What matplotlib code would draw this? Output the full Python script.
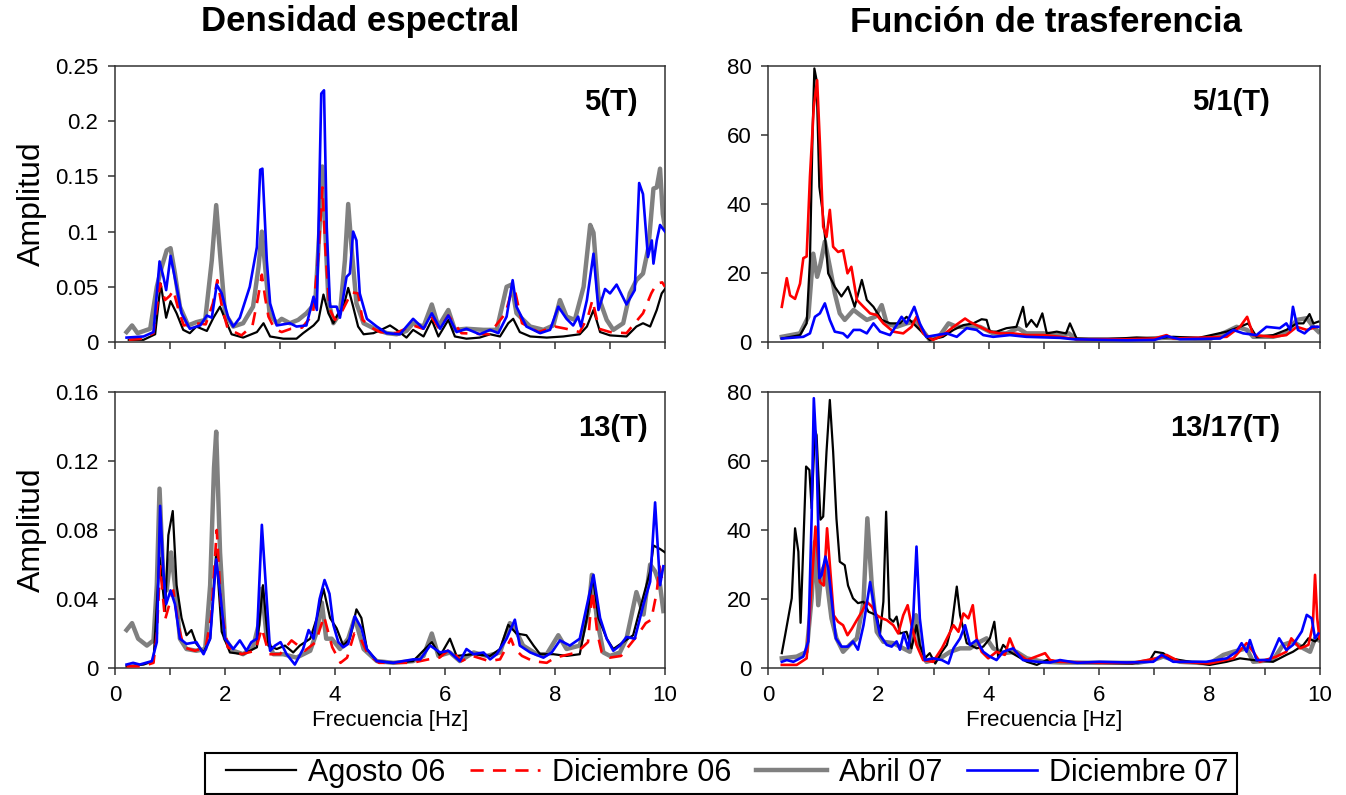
import matplotlib
matplotlib.use("Agg")
import matplotlib.pyplot as plt
from matplotlib.patches import Rectangle

plt.rcParams['font.family'] = ['Liberation Sans', 'DejaVu Sans']

# ---------------------------------------------------------------------------
# Data  (frequency [Hz], amplitude)
# ---------------------------------------------------------------------------
series_names = ["Agosto 06", "Diciembre 06", "Abril 07", "Diciembre 07"]

# --- Densidad espectral 5(T) ---
dens5_ago06 = [(0.25, 0.002), (0.52, 0.002), (0.73, 0.007), (0.83, 0.053), (0.93, 0.022), (1.01, 0.037),
               (1.12, 0.026), (1.24, 0.011), (1.36, 0.008), (1.48, 0.014), (1.67, 0.010), (1.79, 0.022),
               (1.91, 0.032), (2.0, 0.021), (2.12, 0.007), (2.33, 0.004), (2.58, 0.009), (2.70, 0.017),
               (2.82, 0.005), (3.06, 0.003), (3.30, 0.003), (3.42, 0.008), (3.61, 0.015), (3.70, 0.020),
               (3.79, 0.043), (3.88, 0.026), (3.97, 0.017), (4.06, 0.026), (4.15, 0.031), (4.24, 0.049),
               (4.33, 0.032), (4.42, 0.014), (4.52, 0.007), (4.70, 0.008), (4.88, 0.012), (5.0, 0.015),
               (5.12, 0.011), (5.30, 0.004), (5.42, 0.011), (5.61, 0.005), (5.76, 0.020), (5.88, 0.005),
               (6.06, 0.020), (6.18, 0.005), (6.39, 0.003), (6.63, 0.004), (6.82, 0.007), (7.0, 0.005),
               (7.15, 0.017), (7.24, 0.021), (7.36, 0.009), (7.55, 0.005), (7.85, 0.004), (8.15, 0.005),
               (8.45, 0.007), (8.58, 0.014), (8.70, 0.029), (8.82, 0.009), (9.0, 0.006), (9.30, 0.005),
               (9.48, 0.014), (9.60, 0.017), (9.73, 0.014), (9.85, 0.029), (9.94, 0.044), (10.0, 0.048)]
dens5_dic06 = [(0.25, 0.002), (0.5, 0.003), (0.7, 0.008), (0.82, 0.053), (0.91, 0.038), (1.0, 0.042),
               (1.06, 0.047), (1.15, 0.030), (1.25, 0.015), (1.45, 0.017), (1.65, 0.016), (1.78, 0.035),
               (1.86, 0.056), (1.95, 0.030), (2.05, 0.012), (2.3, 0.006), (2.5, 0.015), (2.6, 0.040),
               (2.67, 0.061), (2.73, 0.040), (2.79, 0.023), (2.9, 0.012), (3.03, 0.009), (3.2, 0.012),
               (3.4, 0.013), (3.6, 0.025), (3.7, 0.080), (3.77, 0.140), (3.83, 0.080), (3.9, 0.030),
               (4.0, 0.020), (4.1, 0.025), (4.2, 0.035), (4.3, 0.045), (4.42, 0.044), (4.5, 0.020),
               (4.7, 0.012), (4.82, 0.009), (5.1, 0.008), (5.42, 0.015), (5.6, 0.012), (5.76, 0.022),
               (5.9, 0.012), (6.06, 0.024), (6.3, 0.008), (6.8, 0.007), (7.1, 0.026), (7.2, 0.044),
               (7.27, 0.047), (7.4, 0.017), (7.7, 0.009), (8.0, 0.014), (8.2, 0.012), (8.45, 0.009),
               (8.6, 0.023), (8.68, 0.038), (8.8, 0.012), (9.0, 0.009), (9.3, 0.008), (9.45, 0.017),
               (9.6, 0.026), (9.75, 0.044), (9.85, 0.053), (9.95, 0.054), (10.0, 0.050)]
dens5_abr07 = [(0.21, 0.009), (0.31, 0.015), (0.41, 0.008), (0.64, 0.012), (0.76, 0.050), (0.85, 0.068),
               (0.94, 0.083), (1.01, 0.085), (1.09, 0.062), (1.18, 0.032), (1.33, 0.015), (1.48, 0.018),
               (1.64, 0.020), (1.76, 0.074), (1.84, 0.124), (1.91, 0.080), (2.0, 0.026), (2.15, 0.014),
               (2.33, 0.017), (2.51, 0.032), (2.61, 0.068), (2.67, 0.100), (2.73, 0.068), (2.81, 0.026),
               (2.94, 0.017), (3.03, 0.021), (3.18, 0.017), (3.33, 0.020), (3.48, 0.026), (3.64, 0.035),
               (3.72, 0.104), (3.77, 0.159), (3.82, 0.104), (3.88, 0.038), (3.97, 0.017), (4.09, 0.026),
               (4.18, 0.074), (4.24, 0.125), (4.30, 0.086), (4.39, 0.035), (4.52, 0.017), (4.76, 0.011),
               (4.95, 0.008), (5.12, 0.007), (5.30, 0.010), (5.42, 0.017), (5.61, 0.014), (5.76, 0.034),
               (5.88, 0.014), (6.06, 0.029), (6.18, 0.011), (6.39, 0.012), (6.70, 0.011), (6.94, 0.011),
               (7.12, 0.050), (7.21, 0.052), (7.30, 0.026), (7.55, 0.014), (7.79, 0.011), (7.97, 0.015),
               (8.09, 0.038), (8.21, 0.023), (8.36, 0.020), (8.52, 0.050), (8.64, 0.106), (8.70, 0.099),
               (8.79, 0.041), (8.94, 0.020), (9.06, 0.011), (9.24, 0.017), (9.36, 0.044), (9.48, 0.056),
               (9.60, 0.062), (9.70, 0.086), (9.79, 0.139), (9.85, 0.140), (9.91, 0.157), (9.96, 0.116),
               (10.0, 0.104)]
dens5_dic07 = [(0.21, 0.004), (0.52, 0.005), (0.70, 0.009), (0.81, 0.073), (0.88, 0.059), (0.93, 0.047),
               (1.01, 0.078), (1.12, 0.050), (1.21, 0.026), (1.36, 0.012), (1.55, 0.015), (1.67, 0.024),
               (1.76, 0.022), (1.85, 0.052), (1.94, 0.044), (2.06, 0.022), (2.15, 0.014), (2.27, 0.022),
               (2.45, 0.050), (2.58, 0.086), (2.64, 0.156), (2.68, 0.157), (2.76, 0.074), (2.82, 0.035),
               (2.94, 0.015), (3.18, 0.017), (3.30, 0.014), (3.48, 0.015), (3.61, 0.041), (3.67, 0.029),
               (3.75, 0.225), (3.80, 0.228), (3.85, 0.104), (3.91, 0.032), (4.03, 0.032), (4.09, 0.022),
               (4.21, 0.059), (4.27, 0.062), (4.33, 0.100), (4.39, 0.092), (4.45, 0.044), (4.58, 0.021),
               (4.76, 0.014), (4.94, 0.008), (5.18, 0.007), (5.42, 0.021), (5.61, 0.012), (5.76, 0.026),
               (5.91, 0.012), (6.06, 0.024), (6.21, 0.009), (6.39, 0.012), (6.63, 0.007), (6.82, 0.011),
               (6.97, 0.008), (7.12, 0.023), (7.23, 0.056), (7.30, 0.032), (7.48, 0.014), (7.73, 0.008),
               (7.91, 0.011), (8.06, 0.032), (8.21, 0.021), (8.33, 0.015), (8.42, 0.023), (8.47, 0.014),
               (8.58, 0.038), (8.70, 0.080), (8.79, 0.029), (8.91, 0.048), (9.00, 0.044), (9.12, 0.052),
               (9.30, 0.034), (9.45, 0.047), (9.53, 0.144), (9.60, 0.134), (9.69, 0.077), (9.76, 0.092),
               (9.79, 0.071), (9.85, 0.092), (9.91, 0.106), (10.0, 0.100)]

# --- Densidad espectral 13(T) ---
dens13_ago06 = [(0.21, 0.001), (0.52, 0.002), (0.70, 0.004), (0.81, 0.064), (0.91, 0.033), (0.97, 0.077),
                (1.05, 0.091), (1.12, 0.048), (1.21, 0.029), (1.30, 0.019), (1.39, 0.022), (1.48, 0.014),
                (1.61, 0.009), (1.73, 0.017), (1.84, 0.067), (1.94, 0.021), (2.09, 0.009), (2.33, 0.008),
                (2.58, 0.012), (2.69, 0.048), (2.79, 0.013), (2.94, 0.011), (3.09, 0.013), (3.24, 0.009),
                (3.36, 0.013), (3.55, 0.017), (3.67, 0.029), (3.79, 0.046), (3.91, 0.029), (4.03, 0.023),
                (4.15, 0.013), (4.27, 0.017), (4.39, 0.034), (4.48, 0.029), (4.58, 0.011), (4.76, 0.004),
                (5.06, 0.003), (5.42, 0.004), (5.76, 0.015), (5.91, 0.007), (6.09, 0.017), (6.21, 0.007),
                (6.52, 0.008), (6.82, 0.007), (7.0, 0.011), (7.15, 0.025), (7.30, 0.020), (7.48, 0.019),
                (7.61, 0.013), (7.73, 0.008), (7.97, 0.008), (8.21, 0.007), (8.45, 0.008), (8.58, 0.029),
                (8.69, 0.053), (8.79, 0.029), (8.94, 0.017), (9.06, 0.011), (9.24, 0.015), (9.42, 0.019),
                (9.61, 0.042), (9.73, 0.056), (9.79, 0.071), (9.91, 0.069), (10.0, 0.067)]
dens13_dic06 = [(0.21, 0.001), (0.5, 0.001), (0.7, 0.003), (0.76, 0.020), (0.82, 0.059), (0.91, 0.028),
                (1.06, 0.045), (1.15, 0.025), (1.25, 0.012), (1.45, 0.010), (1.65, 0.012), (1.75, 0.030),
                (1.85, 0.080), (1.93, 0.035), (2.05, 0.012), (2.3, 0.008), (2.55, 0.010), (2.67, 0.023),
                (2.8, 0.008), (3.0, 0.008), (3.21, 0.016), (3.45, 0.010), (3.65, 0.015), (3.8, 0.030),
                (3.95, 0.012), (4.1, 0.003), (4.22, 0.006), (4.35, 0.020), (4.45, 0.018), (4.6, 0.008),
                (4.8, 0.003), (5.4, 0.003), (5.7, 0.005), (5.9, 0.006), (6.09, 0.011), (6.3, 0.004),
                (6.5, 0.007), (6.8, 0.004), (7.0, 0.005), (7.2, 0.017), (7.27, 0.011), (7.4, 0.007),
                (7.6, 0.004), (7.85, 0.003), (8.0, 0.006), (8.4, 0.009), (8.6, 0.015), (8.68, 0.045),
                (8.77, 0.020), (8.85, 0.009), (9.0, 0.006), (9.2, 0.007), (9.4, 0.015), (9.5, 0.019),
                (9.65, 0.026), (9.75, 0.028), (9.85, 0.044), (9.9, 0.059), (9.97, 0.048)]
dens13_abr07 = [(0.21, 0.022), (0.31, 0.026), (0.42, 0.017), (0.58, 0.013), (0.70, 0.016), (0.76, 0.048),
                (0.81, 0.104), (0.88, 0.050), (0.94, 0.045), (1.02, 0.067), (1.09, 0.048), (1.18, 0.017),
                (1.30, 0.011), (1.48, 0.010), (1.64, 0.011), (1.73, 0.048), (1.80, 0.116), (1.84, 0.137),
                (1.91, 0.067), (2.0, 0.017), (2.15, 0.010), (2.33, 0.008), (2.51, 0.012), (2.61, 0.025),
                (2.67, 0.046), (2.76, 0.017), (2.88, 0.008), (3.06, 0.008), (3.30, 0.006), (3.55, 0.010),
                (3.67, 0.021), (3.76, 0.038), (3.84, 0.017), (3.94, 0.017), (4.09, 0.011), (4.24, 0.017),
                (4.36, 0.029), (4.52, 0.011), (4.76, 0.004), (5.06, 0.003), (5.42, 0.004), (5.61, 0.007),
                (5.76, 0.020), (5.88, 0.007), (6.09, 0.009), (6.27, 0.004), (6.52, 0.009), (6.76, 0.007),
                (7.0, 0.009), (7.18, 0.026), (7.27, 0.023), (7.42, 0.013), (7.67, 0.008), (7.85, 0.008),
                (8.06, 0.019), (8.21, 0.011), (8.45, 0.013), (8.61, 0.033), (8.67, 0.054), (8.76, 0.029),
                (8.88, 0.009), (9.0, 0.007), (9.18, 0.009), (9.30, 0.017), (9.48, 0.044), (9.61, 0.031),
                (9.73, 0.060), (9.82, 0.056), (9.91, 0.048), (9.97, 0.033)]
dens13_dic07 = [(0.21, 0.002), (0.33, 0.003), (0.45, 0.002), (0.67, 0.004), (0.76, 0.015), (0.82, 0.094),
                (0.88, 0.056), (0.93, 0.037), (1.01, 0.045), (1.09, 0.037), (1.18, 0.017), (1.30, 0.014),
                (1.48, 0.015), (1.61, 0.008), (1.73, 0.017), (1.84, 0.063), (1.91, 0.044), (2.0, 0.017),
                (2.15, 0.011), (2.27, 0.016), (2.39, 0.010), (2.48, 0.015), (2.58, 0.017), (2.67, 0.083),
                (2.76, 0.039), (2.82, 0.010), (2.91, 0.013), (3.01, 0.015), (3.12, 0.008), (3.27, 0.002),
                (3.42, 0.011), (3.52, 0.022), (3.61, 0.017), (3.72, 0.040), (3.81, 0.051), (3.90, 0.043),
                (3.97, 0.025), (4.06, 0.015), (4.15, 0.012), (4.24, 0.014), (4.36, 0.030), (4.48, 0.023),
                (4.58, 0.011), (4.76, 0.004), (5.06, 0.003), (5.42, 0.005), (5.55, 0.005), (5.73, 0.013),
                (5.91, 0.009), (6.06, 0.010), (6.27, 0.004), (6.39, 0.011), (6.52, 0.008), (6.70, 0.009),
                (6.82, 0.005), (6.94, 0.008), (7.12, 0.017), (7.27, 0.028), (7.36, 0.013), (7.55, 0.009),
                (7.79, 0.006), (7.94, 0.009), (8.09, 0.016), (8.27, 0.013), (8.45, 0.017), (8.70, 0.054),
                (8.82, 0.029), (8.94, 0.017), (9.06, 0.010), (9.18, 0.013), (9.30, 0.018), (9.45, 0.017),
                (9.61, 0.037), (9.73, 0.050), (9.82, 0.096), (9.91, 0.048), (9.97, 0.059)]

# --- Funcion de trasferencia 5/1(T) ---
tf5_ago06 = [(0.25, 1.0), (0.58, 2.0), (0.70, 5.4), (0.76, 23.7), (0.81, 62.4), (0.84, 79.3), (0.88, 75.9),
             (0.93, 45.0), (0.99, 37.7), (1.05, 27.6), (1.09, 19.9), (1.21, 16.0), (1.33, 13.2), (1.45, 16.0),
             (1.57, 10.2), (1.70, 18.0), (1.79, 12.2), (1.91, 10.2), (2.06, 6.4), (2.21, 5.4), (2.39, 5.4),
             (2.51, 7.3), (2.63, 5.4), (2.75, 3.5), (2.93, 0.6), (3.17, 1.5), (3.36, 3.5), (3.54, 4.9),
             (3.72, 5.4), (3.87, 6.6), (3.96, 6.4), (4.02, 3.0), (4.14, 3.0), (4.32, 4.0), (4.50, 4.4),
             (4.62, 10.2), (4.68, 4.4), (4.77, 6.4), (4.87, 4.4), (4.97, 8.3), (5.05, 2.5), (5.23, 3.0),
             (5.40, 2.5), (5.47, 5.4), (5.59, 1.0), (6.0, 0.7), (6.68, 1.3), (7.0, 1.0), (7.34, 1.5),
             (7.8, 1.2), (8.31, 3.0), (8.55, 4.4), (8.70, 5.4), (8.85, 1.5), (9.15, 2.0), (9.39, 3.5),
             (9.58, 5.4), (9.70, 5.4), (9.81, 8.1), (9.88, 5.4), (9.97, 5.9)]
tf5_dic06 = [(0.25, 10.2), (0.34, 18.5), (0.40, 13.5), (0.49, 12.5), (0.58, 16.9), (0.64, 24.3), (0.70, 24.8),
             (0.76, 47.9), (0.83, 68.2), (0.89, 75.9), (0.94, 57.6), (1.0, 33.4), (1.06, 30.5), (1.12, 38.3),
             (1.18, 27.6), (1.27, 26.1), (1.36, 26.6), (1.44, 19.9), (1.51, 21.8), (1.61, 12.2), (1.73, 10.2),
             (1.85, 8.3), (1.97, 7.8), (2.09, 5.4), (2.27, 3.0), (2.45, 2.5), (2.60, 4.4), (2.69, 7.3),
             (2.81, 2.5), (2.99, 0.6), (3.17, 2.0), (3.36, 4.4), (3.57, 6.8), (3.66, 5.8), (3.84, 4.4),
             (4.02, 3.0), (4.20, 2.5), (4.44, 2.5), (4.68, 2.0), (4.99, 2.0), (5.29, 1.5), (5.6, 0.8),
             (6.5, 0.8), (7.0, 1.0), (7.22, 2.0), (7.34, 1.0), (8.31, 1.5), (8.55, 4.4), (8.68, 7.3),
             (8.79, 2.0), (9.15, 1.5), (9.39, 2.0), (9.58, 4.4), (9.76, 3.5), (9.94, 4.4)]
tf5_abr07 = [(0.25, 1.5), (0.58, 2.5), (0.73, 7.3), (0.82, 25.6), (0.89, 18.9), (0.94, 21.8), (1.03, 29.1),
             (1.12, 21.8), (1.21, 14.1), (1.30, 8.3), (1.39, 6.4), (1.55, 9.3), (1.67, 7.8), (1.79, 6.4),
             (1.94, 7.3), (2.06, 10.7), (2.15, 5.4), (2.33, 4.4), (2.51, 5.4), (2.66, 5.9), (2.75, 4.4),
             (2.93, 0.6), (3.12, 2.0), (3.27, 5.4), (3.42, 4.4), (3.60, 4.4), (3.84, 4.4), (4.08, 2.5),
             (4.32, 2.5), (4.53, 4.0), (4.68, 2.5), (4.99, 2.5), (5.29, 2.0), (5.45, 2.5), (5.59, 0.8),
             (6.5, 0.8), (7.2, 1.2), (8.0, 0.8), (8.31, 3.0), (8.49, 4.4), (8.68, 3.5), (8.79, 1.5),
             (9.15, 1.5), (9.39, 2.5), (9.58, 6.4), (9.76, 6.9), (9.88, 4.4), (9.97, 3.0)]
tf5_dic07 = [(0.25, 1.0), (0.64, 1.5), (0.76, 2.5), (0.85, 7.3), (0.94, 8.3), (1.03, 11.2), (1.12, 6.4),
             (1.21, 3.0), (1.36, 2.5), (1.44, 1.3), (1.55, 3.5), (1.67, 3.5), (1.79, 2.5), (1.91, 5.4),
             (2.03, 3.0), (2.21, 2.0), (2.33, 4.9), (2.42, 7.3), (2.51, 5.4), (2.65, 10.2), (2.75, 5.4),
             (2.87, 1.5), (3.05, 2.0), (3.24, 2.5), (3.42, 1.5), (3.60, 4.0), (3.78, 3.5), (3.90, 2.0),
             (4.08, 1.5), (4.38, 2.0), (4.68, 1.5), (5.29, 1.2), (5.53, 0.8), (6.5, 0.5), (7.0, 0.6),
             (7.22, 1.7), (7.46, 0.8), (8.19, 1.0), (8.43, 3.5), (8.61, 2.5), (8.85, 2.0), (9.03, 4.4),
             (9.27, 4.0), (9.39, 5.4), (9.46, 3.5), (9.51, 10.2), (9.60, 3.5), (9.72, 2.5), (9.85, 4.4),
             (9.97, 4.4)]

# --- Funcion de trasferencia 13/17(T) ---
tf13_ago06 = [(0.25, 4.3), (0.31, 9.5), (0.43, 20.2), (0.49, 40.5), (0.55, 33.7), (0.59, 13.1), (0.64, 35.6),
              (0.69, 58.4), (0.75, 57.4), (0.79, 46.3), (0.85, 69.0), (0.88, 67.5), (0.95, 43.0), (1.0, 43.9),
              (1.06, 62.7), (1.12, 77.7), (1.18, 62.7), (1.24, 43.3), (1.30, 30.8), (1.39, 29.8), (1.45, 23.9),
              (1.54, 20.2), (1.63, 18.8), (1.73, 19.2), (1.82, 16.3), (1.97, 15.3), (2.03, 10.0), (2.09, 19.2),
              (2.14, 45.3), (2.20, 14.4), (2.27, 13.4), (2.33, 14.9), (2.39, 10.0), (2.51, 10.5), (2.60, 5.7),
              (2.69, 12.4), (2.75, 6.7), (2.84, 2.8), (2.93, 4.3), (3.03, 1.3), (3.15, 4.7), (3.24, 6.7),
              (3.33, 12.4), (3.42, 23.6), (3.48, 15.3), (3.60, 7.2), (3.78, 5.7), (3.90, 6.2), (4.02, 8.6),
              (4.10, 13.4), (4.17, 3.3), (4.26, 6.7), (4.38, 4.7), (4.53, 3.3), (4.69, 1.8), (4.87, 0.9),
              (5.05, 2.3), (5.29, 1.8), (6.0, 1.5), (6.6, 1.3), (6.92, 2.3), (7.01, 4.7), (7.16, 4.3),
              (7.28, 2.8), (7.64, 1.8), (8.0, 0.9), (8.31, 1.8), (8.55, 2.8), (8.79, 2.3), (9.15, 1.8),
              (9.39, 3.8), (9.51, 4.7), (9.70, 6.7), (9.79, 8.6), (9.91, 7.7), (9.97, 8.6)]
tf13_dic06 = [(0.25, 0.9), (0.52, 0.9), (0.70, 2.8), (0.79, 23.9), (0.86, 41.0), (0.94, 24.9), (1.01, 23.9),
              (1.07, 40.5), (1.13, 27.9), (1.19, 15.3), (1.27, 13.4), (1.36, 12.4), (1.44, 9.5), (1.52, 11.4),
              (1.61, 13.9), (1.70, 16.3), (1.79, 19.2), (1.88, 17.8), (1.97, 15.3), (2.06, 14.4), (2.15, 13.9),
              (2.27, 12.4), (2.36, 10.0), (2.45, 15.3), (2.53, 18.2), (2.60, 12.4), (2.69, 6.7), (2.81, 2.3),
              (2.99, 1.8), (3.15, 5.7), (3.27, 9.5), (3.36, 12.4), (3.45, 10.5), (3.54, 15.8), (3.63, 14.4),
              (3.71, 18.2), (3.78, 8.6), (3.87, 4.7), (3.99, 2.8), (4.14, 4.7), (4.29, 3.8), (4.38, 8.6),
              (4.48, 4.7), (4.69, 2.3), (5.02, 4.3), (5.11, 2.3), (5.29, 1.8), (6.0, 1.5), (6.6, 1.5),
              (7.04, 2.8), (7.22, 3.8), (7.46, 1.8), (8.0, 1.3), (8.43, 2.8), (8.67, 7.2), (8.79, 4.7),
              (8.91, 1.8), (9.21, 3.3), (9.39, 4.7), (9.48, 8.6), (9.64, 5.7), (9.79, 6.7), (9.87, 12.4),
              (9.91, 27.0), (9.95, 14.4), (9.99, 8.6)]
tf13_abr07 = [(0.25, 2.8), (0.52, 3.3), (0.70, 4.7), (0.79, 20.2), (0.85, 36.6), (0.91, 18.2), (0.97, 27.9),
              (1.03, 29.8), (1.09, 22.1), (1.15, 14.4), (1.24, 8.6), (1.36, 4.7), (1.48, 6.7), (1.61, 8.6),
              (1.73, 19.2), (1.80, 43.4), (1.88, 24.0), (1.97, 10.5), (2.09, 7.6), (2.27, 7.2), (2.45, 5.7),
              (2.57, 4.7), (2.68, 15.3), (2.75, 5.7), (2.87, 1.8), (3.12, 2.8), (3.30, 4.7), (3.48, 5.7),
              (3.66, 5.7), (3.84, 7.6), (3.96, 8.6), (4.08, 5.7), (4.26, 4.3), (4.50, 4.7), (4.69, 2.8),
              (4.99, 1.8), (5.29, 1.6), (6.0, 1.5), (6.7, 1.5), (6.98, 2.3), (7.16, 3.3), (7.46, 1.8),
              (8.0, 1.3), (8.25, 3.8), (8.43, 4.7), (8.67, 5.7), (8.79, 1.8), (9.15, 2.3), (9.33, 6.7),
              (9.51, 7.7), (9.70, 5.7), (9.82, 4.7), (9.91, 8.6), (9.97, 8.1)]
tf13_dic07 = [(0.25, 1.8), (0.34, 2.3), (0.46, 1.8), (0.64, 3.3), (0.73, 7.7), (0.79, 43.4), (0.83, 78.2),
              (0.88, 62.7), (0.93, 26.0), (0.97, 26.9), (1.04, 32.3), (1.09, 29.0), (1.15, 20.2), (1.23, 8.6),
              (1.33, 6.2), (1.45, 6.2), (1.54, 7.7), (1.63, 5.3), (1.73, 12.4), (1.85, 24.9), (1.94, 16.3),
              (2.03, 9.5), (2.15, 6.7), (2.24, 6.2), (2.33, 7.7), (2.39, 5.3), (2.46, 10.0), (2.54, 5.7),
              (2.63, 14.4), (2.69, 35.2), (2.75, 14.4), (2.84, 2.3), (2.99, 2.8), (3.15, 2.3), (3.27, 1.3),
              (3.36, 5.7), (3.48, 8.6), (3.57, 12.4), (3.66, 6.7), (3.78, 8.1), (3.90, 4.7), (4.02, 3.3),
              (4.14, 2.3), (4.26, 4.7), (4.44, 5.7), (4.62, 2.3), (4.87, 1.8), (5.11, 1.6), (5.29, 2.3),
              (5.6, 1.5), (6.0, 1.8), (6.5, 1.6), (6.98, 1.8), (7.13, 3.8), (7.34, 1.8), (7.94, 1.8),
              (8.31, 2.8), (8.49, 4.7), (8.58, 7.2), (8.67, 4.7), (8.73, 8.1), (8.85, 2.3), (9.09, 2.3),
              (9.26, 8.6), (9.39, 5.2), (9.51, 6.7), (9.67, 10.6), (9.76, 15.4), (9.85, 14.4), (9.91, 8.6),
              (9.97, 10.0)]

# y axis ticks of each row
dens5_yticks = [0, 0.05, 0.1, 0.15, 0.2, 0.25]
dens13_yticks = [0, 0.04, 0.08, 0.12, 0.16]
tf_yticks = [0, 20, 40, 60, 80]
x_ticks = list(range(0, 11))


# ---------------------------------------------------------------------------
# Styles
# ---------------------------------------------------------------------------
styles = [
    dict(color="black", lw=1.6, zorder=3),
    dict(color="#ff0000", lw=1.9, dashes=(5, 3.5), zorder=4),
    dict(color="#808080", lw=3.2, zorder=2),
    dict(color="#0000ff", lw=1.9, zorder=5),
]
styles_tf = [
    dict(color="black", lw=1.6, zorder=3),
    dict(color="#ff0000", lw=1.9, zorder=4),
    dict(color="#808080", lw=3.2, zorder=2),
    dict(color="#0000ff", lw=1.9, zorder=5),
]

W, H = 1346, 795


def px_axes(fig, left, top, right, bottom):
    return fig.add_axes([left / W, 1 - bottom / H, (right - left) / W, (bottom - top) / H])


def setup_panel(ax, series, st, yticks, tag, tag_x, show_xlabels, ylabel):
    lines = []
    for data, s in zip(series, st):
        f, a = zip(*data)
        ln, = ax.plot(f, a, solid_joinstyle="round", **s)
        lines.append(ln)
    ax.set_xlim(0, 10)
    ax.set_ylim(yticks[0], yticks[-1])
    ax.set_xticks(x_ticks)
    if show_xlabels:
        ax.set_xticklabels([str(t) if t % 2 == 0 else "" for t in x_ticks])
        ax.set_xlabel("Frecuencia [Hz]", fontsize=16, labelpad=3)
    else:
        ax.set_xticklabels([])
    ax.set_yticks(yticks)
    ax.set_yticklabels([("%g" % t) for t in yticks])
    ax.tick_params(direction="out", length=5, width=1.1, labelsize=16, pad=7, color="#333333")
    for sp in ax.spines.values():
        sp.set_color("#333333")
        sp.set_linewidth(1.1)
    if ylabel:
        ax.set_ylabel("Amplitud", fontsize=23, labelpad=6)
    ax.text(tag_x, 0.87, tag, transform=ax.transAxes, ha="center", va="center",
            fontsize=21, fontweight="bold")
    return lines


# ---------------------------------------------------------------------------
# Figure
# ---------------------------------------------------------------------------
fig = plt.figure(figsize=(W / 100, H / 100), dpi=100)

ax_tl = px_axes(fig, 115, 66, 665, 342)
ax_tr = px_axes(fig, 768, 66, 1320, 342)
ax_bl = px_axes(fig, 115, 392, 665, 668)
ax_br = px_axes(fig, 768, 392, 1320, 668)

handles = setup_panel(ax_tl, [dens5_ago06, dens5_dic06, dens5_abr07, dens5_dic07], styles,
                      dens5_yticks, "5(T)", 0.902, False, True)
setup_panel(ax_bl, [dens13_ago06, dens13_dic06, dens13_abr07, dens13_dic07], styles,
            dens13_yticks, "13(T)", 0.905, True, True)
setup_panel(ax_tr, [tf5_ago06, tf5_dic06, tf5_abr07, tf5_dic07], styles_tf,
            tf_yticks, "5/1(T)", 0.839, False, False)
setup_panel(ax_br, [tf13_ago06, tf13_dic06, tf13_abr07, tf13_dic07], styles_tf,
            tf_yticks, "13/17(T)", 0.828, True, False)

fig.text(360 / W, 1 - 22 / H, "Densidad espectral", ha="center", va="center",
         fontsize=25, fontweight="bold")
fig.text(1046 / W, 1 - 22 / H, "Función de trasferencia", ha="center", va="center",
         fontsize=25, fontweight="bold")

# legend in a hand-drawn box
fig.patches.append(Rectangle((205 / W, 1 - 794 / H), (1237 - 205) / W, (794 - 753) / H,
                             transform=fig.transFigure, fill=False, edgecolor="black", lw=1.5))
fig.legend(handles, series_names, loc="center", bbox_to_anchor=(727 / W, 1 - 773 / H),
           ncol=4, frameon=False, fontsize=22, handlelength=2.3, handletextpad=0.4,
           columnspacing=0.8, borderpad=0.1)

fig.savefig("out.png", dpi=100)
